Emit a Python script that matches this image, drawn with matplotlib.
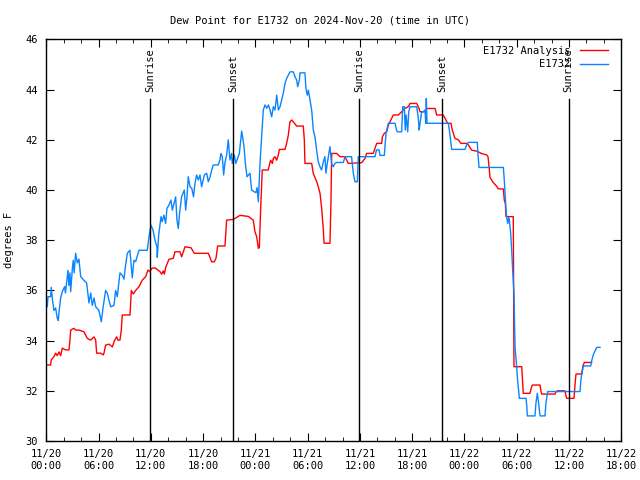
import matplotlib
matplotlib.use("Agg")
import matplotlib.pyplot as plt
import matplotlib.dates as mdates
import pandas as pd

# --------------------------
# data (hours after 2024-11-20 00:00 UTC, degrees F)
start = pd.Timestamp("2024-11-20 00:00")

analysis_hours = [
    0.0, 0.5, 0.57, 0.88, 1.08, 1.26, 1.46, 1.65, 1.84, 2.22, 2.6, 2.72, 2.8, 3.18, 3.37, 3.75,
    4.33, 4.71, 5.09, 5.48, 5.67, 5.78, 6.24, 6.55, 6.62, 6.81, 7.2, 7.58, 7.85, 8.08, 8.23, 8.46,
    8.61, 8.72, 9.61, 9.76, 9.99, 10.26, 10.64, 11.02, 11.41, 11.67, 11.9, 12.1, 12.48, 13.05,
    13.25, 13.43, 13.55, 13.71, 14.08, 14.58, 14.77, 15.35, 15.54, 15.92, 16.61, 16.99, 18.6,
    18.99, 19.28, 19.48, 19.67, 20.51, 20.7, 21.47, 22.23, 23.19, 23.57, 23.76, 23.95, 24.15,
    24.34, 24.45, 24.6, 24.79, 25.48, 25.6, 25.75, 25.95, 26.06, 26.25, 26.44, 26.63, 26.75,
    27.4, 27.59, 27.78, 27.97, 28.17, 28.35, 28.74, 29.5, 29.62, 29.69, 30.46, 30.65, 31.04,
    31.22, 31.42, 31.5, 31.61, 31.72, 31.8, 31.88, 32.56, 32.68, 32.76, 33.33, 33.71, 34.29,
    34.48, 34.67, 36.2, 36.58, 36.77, 37.53, 37.73, 37.92, 38.5, 38.57, 38.8, 39.07, 39.26,
    39.64, 39.83, 40.4, 40.79, 41.17, 41.55, 41.75, 42.52, 42.78, 42.9, 43.47, 43.66, 44.62,
    44.81, 45.57, 45.76, 46.07, 46.45, 46.6, 46.91, 47.29, 47.6, 48.25, 48.44, 48.83, 49.4,
    50.0, 50.55, 50.7, 50.82, 50.93, 51.3, 51.7, 51.88, 52.46, 52.57, 52.69, 52.77, 53.6,
    53.68, 54.57, 54.75, 55.52, 55.65, 55.79, 56.67, 56.8, 56.86, 58.39, 58.5, 58.66, 59.54,
    59.65, 59.73, 60.57, 60.7, 60.8, 61.45, 61.6, 61.76, 62.6,
]
analysis_dewpt = [
    33.03, 33.03, 33.23, 33.36, 33.5, 33.4, 33.55, 33.4, 33.7, 33.63, 33.63, 34.02, 34.42, 34.49, 34.42, 34.42,
    34.35, 34.09, 34.02, 34.15, 34.02, 33.5, 33.5, 33.43, 33.5, 33.82, 33.86, 33.75, 34.02, 34.15, 34.02, 34.02,
    34.42, 35.02, 35.02, 36.0, 35.86, 36.0, 36.15, 36.41, 36.55, 36.81, 36.75, 36.88, 36.9, 36.75,
    36.65, 36.78, 36.65, 36.92, 37.24, 37.28, 37.54, 37.54, 37.34, 37.74, 37.7, 37.48, 37.48,
    37.14, 37.14, 37.28, 37.77, 37.77, 38.8, 38.83, 38.99, 38.95, 38.85, 38.8, 38.34, 38.14,
    37.68, 37.7, 39.2, 40.8, 40.8, 40.99, 41.19, 41.06, 41.26, 41.33, 41.19, 41.39, 41.62,
    41.62, 41.86, 42.19, 42.72, 42.79, 42.72, 42.55, 42.55, 41.99, 41.06, 41.06, 40.66, 40.33,
    40.13, 39.87, 39.6, 39.27, 38.8, 38.41, 37.88, 37.88, 39.6, 41.46, 41.46, 41.33, 41.33,
    41.19, 41.06, 41.09, 41.26, 41.46, 41.46, 41.66, 41.86, 41.86, 42.12, 42.26, 42.32, 42.59,
    42.86, 42.99, 42.99, 43.12, 43.26, 43.32, 43.45, 43.45, 43.25, 43.12, 43.12, 43.25, 43.25,
    42.99, 42.99, 42.86, 42.66, 42.66, 42.39, 42.06, 42.0, 41.86, 41.86, 41.8, 41.59, 41.55,
    41.45, 41.4, 41.33, 40.93, 40.5, 40.3, 40.15, 40.05, 40.04, 39.6, 39.47, 38.94, 38.94,
    32.96, 32.96, 31.9, 31.9, 32.1, 32.23, 32.23, 31.95, 31.87, 31.87, 31.95, 32.0, 32.0,
    31.8, 31.7, 31.7, 32.3, 32.67, 32.67, 33.0, 33.13, 33.13,
]

station_hours = [
    0.0, 0.11, 0.2, 0.5, 0.57, 0.72, 0.88, 1.07, 1.26, 1.38, 1.45, 1.65, 1.84, 2.1, 2.2, 2.49,
    2.6, 2.72, 2.8, 3.0, 3.1, 3.2, 3.37, 3.56, 3.75, 3.95, 4.33, 4.63, 4.9, 5.1, 5.28, 5.48,
    5.67, 6.05, 6.32, 6.51, 6.81, 7.0, 7.2, 7.39, 7.77, 7.96, 8.15, 8.46, 8.73, 8.92, 9.1, 9.3,
    9.6, 9.87, 10.06, 10.26, 10.64, 11.6, 11.79, 12.02, 12.25, 12.48, 12.7, 12.74, 12.9, 13.05,
    13.17, 13.3, 13.5, 13.7, 13.85, 14.08, 14.31, 14.47, 14.7, 14.85, 15.0, 15.15, 15.3, 15.53,
    15.84, 16.0, 16.15, 16.3, 16.5, 16.7, 16.9, 17.07, 17.26, 17.45, 17.64, 17.83, 18.14, 18.41,
    18.6, 18.8, 18.99, 19.17, 19.74, 19.93, 20.05, 20.2, 20.36, 20.5, 20.7, 20.89, 21.08, 21.27,
    21.35, 21.58, 21.74, 21.97, 22.16, 22.43, 22.7, 22.85, 23.04, 23.38, 23.57, 23.87, 24.07,
    24.2, 24.34, 24.53, 24.72, 24.91, 25.1, 25.3, 25.5, 25.68, 25.87, 26.06, 26.25, 26.45,
    26.64, 26.83, 27.02, 27.2, 27.4, 27.59, 27.78, 27.97, 28.35, 28.55, 28.74, 28.86, 29.05,
    29.12, 29.69, 29.8, 29.96, 30.08, 30.27, 30.46, 30.65, 30.84, 31.03, 31.22, 31.41, 31.6,
    31.8, 31.98, 32.1, 32.25, 32.37, 32.56, 32.75, 32.94, 33.13, 33.33, 34.09, 34.3, 35.04,
    35.24, 35.43, 35.7, 35.81, 37.73, 37.9, 38.2, 38.3, 38.8, 38.9, 39.0, 39.26, 40.03, 40.2,
    40.3, 40.79, 40.91, 41.1, 41.2, 41.3, 41.48, 41.6, 41.75, 42.52, 42.7, 42.8, 42.9, 43.09,
    43.3, 43.47, 43.55, 43.62, 43.7, 46.14, 46.26, 46.4, 46.53, 48.06, 48.25, 48.44, 49.47,
    49.55, 49.67, 52.46, 52.57, 52.65, 52.77, 52.85, 52.96, 53.07, 53.15, 53.3, 53.42, 53.5,
    53.53, 53.68, 53.8, 53.99, 54.1, 54.3, 55.06, 55.15, 55.21, 56.09, 56.2, 56.36, 56.48,
    56.6, 56.67, 57.24, 57.35, 57.55, 61.26, 61.38, 61.64, 62.49, 62.6, 62.8, 63.0, 63.18, 63.56,
]
station_dewpt = [
    35.35, 35.35, 35.75, 35.75, 36.12, 35.6, 35.2, 35.3, 34.9, 34.8, 35.1, 35.7, 35.95, 36.15, 35.9, 36.8,
    36.2, 36.7, 35.95, 36.9, 37.2, 36.7, 37.48, 37.1, 37.25, 36.55, 36.4, 36.3, 35.5, 35.9, 35.4, 35.7,
    35.35, 35.2, 34.75, 35.3, 36.0, 35.9, 35.6, 35.35, 35.4, 36.0, 35.75, 36.7, 36.6, 36.45, 37.0, 37.48,
    37.6, 36.5, 37.2, 37.15, 37.6, 37.6, 38.14, 38.6, 38.4, 38.0, 37.74, 37.32, 38.2, 38.6,
    38.94, 38.74, 39.0, 38.67, 39.27, 39.4, 39.6, 39.2, 39.53, 39.73, 38.8, 38.47, 39.07, 39.73,
    40.0, 39.2, 39.73, 40.53, 40.13, 40.07, 39.73, 40.27, 40.6, 40.4, 40.6, 40.13, 40.6, 40.67,
    40.33, 40.53, 40.8, 41.0, 41.0, 41.2, 41.46, 41.33, 40.6, 41.07, 41.4, 42.0, 41.2, 41.46,
    41.06, 41.4, 41.06, 41.27, 41.46, 42.35, 41.73, 41.06, 40.53, 40.67, 40.0, 39.93, 39.9,
    40.1, 39.53, 41.06, 42.12, 43.19, 43.39, 43.26, 43.39, 43.19, 42.92, 43.32, 43.19, 43.78,
    43.19, 43.32, 43.59, 43.85, 44.25, 44.45, 44.58, 44.71, 44.71, 44.52, 44.38, 44.12, 44.38,
    44.67, 44.67, 44.05, 43.78, 43.98, 43.59, 43.19, 42.39, 42.12, 41.59, 41.13, 40.93, 40.8,
    41.13, 41.33, 40.67, 41.06, 41.33, 41.73, 41.06, 40.93, 41.06, 41.1, 41.1, 41.33, 41.33,
    40.67, 40.33, 40.33, 41.33, 41.33, 41.6, 41.6, 41.38, 41.38, 41.86, 42.26, 42.66, 42.66, 42.39,
    42.32, 42.32, 43.32, 43.32, 42.39, 42.99, 42.32, 43.12, 43.32, 43.32, 42.86, 42.39, 42.66, 43.12,
    43.12, 43.19, 42.66, 43.65, 42.66, 42.66, 42.4, 42.0, 41.62, 41.62, 41.8, 41.9, 41.9,
    41.4, 40.9, 40.9, 40.4, 39.9, 39.2, 38.9, 38.67, 38.9, 38.8, 38.3, 37.6, 37.0,
    36.81, 35.88, 33.76, 32.96, 32.4, 31.7, 31.7, 31.4, 31.0, 31.0, 31.5, 31.9, 31.6,
    31.2, 31.0, 31.0, 31.5, 31.97, 31.97, 32.5, 32.99, 32.99, 33.2, 33.45, 33.6, 33.73, 33.73,
]

sun_times = ["2024-11-20 11:56", "2024-11-20 21:28", "2024-11-21 11:56",
             "2024-11-21 21:27", "2024-11-22 11:58"]
sun_labels = ["Sunrise", "Sunset", "Sunrise", "Sunset", "Sunrise"]

# --------------------------
analysis_t = start + pd.to_timedelta(analysis_hours, unit="h")
station_t = start + pd.to_timedelta(station_hours, unit="h")

plt.rcParams["font.family"] = "DejaVu Sans Mono"
fs = 7.5

fig = plt.figure(figsize=(6.4, 4.8), dpi=100)
ax = fig.add_axes([0.0723, 0.08125, 0.8985, 0.8365])

ax.plot(analysis_t, analysis_dewpt, color="#ff0000", lw=1.0, label="E1732 Analysis")
ax.plot(station_t, station_dewpt, color="#0a84ff", lw=1.0, label="E1732")

# 日の出・日の入り
for t, lab in zip(sun_times, sun_labels):
    t = pd.Timestamp(t)
    ax.axvline(t, ymin=0, ymax=0.852, color="black", lw=1.0)
    ax.text(t, 0.87, lab, rotation=90, ha="center", va="bottom",
            transform=ax.get_xaxis_transform(), fontsize=fs)

ax.set_xlim(pd.Timestamp("2024-11-20 00:00"), pd.Timestamp("2024-11-22 18:00"))
ax.set_ylim(30, 46)
ax.set_yticks(range(30, 47, 2))
ax.xaxis.set_major_locator(mdates.HourLocator(byhour=[0, 6, 12, 18]))
ax.xaxis.set_minor_locator(mdates.HourLocator(byhour=range(0, 24, 2)))
ax.xaxis.set_major_formatter(mdates.DateFormatter("%m/%d\n%H:%M"))

ax.tick_params(which="both", direction="in", top=True, right=True, labelsize=fs, pad=6)
ax.tick_params(which="major", length=6)
ax.tick_params(which="minor", length=3)
for s in ax.spines.values():
    s.set_linewidth(1.0)

ax.set_ylabel("degrees F", fontsize=fs, labelpad=8)
fig.suptitle("Dew Point for E1732 on 2024-Nov-20 (time in UTC)", fontsize=fs, y=0.968)

ax.legend(loc="upper right", bbox_to_anchor=(0.988, 1.0), frameon=False,
          markerfirst=False, fontsize=fs, handlelength=2.7, handletextpad=0.9,
          labelspacing=0.35, borderaxespad=0.3, borderpad=0.3)

fig.savefig("out.png", dpi=100)
